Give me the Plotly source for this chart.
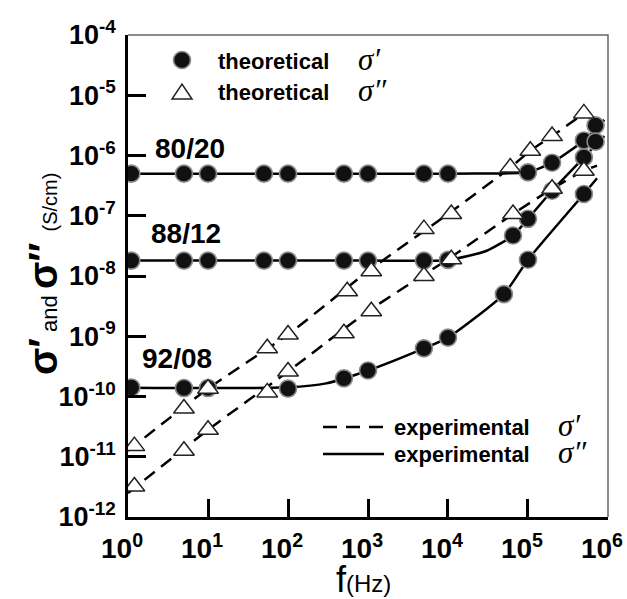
import plotly.graph_objects as go

# ---------------- data ----------------
# theoretical sigma' (circles)
f_circ_8020 = [1.1, 5, 10, 50, 100, 500, 1e3, 5e3, 1e4, 1e5, 2e5, 5e5, 7e5]
s_circ_8020 = [5.0e-7, 5.0e-7, 5.0e-7, 5.0e-7, 5.0e-7, 5.0e-7, 5.0e-7, 5.0e-7, 5.0e-7,
               5.25e-7, 7.6e-7, 1.78e-6, 3.16e-6]
f_circ_8812 = [1.1, 5, 10, 50, 100, 500, 1e3, 5e3, 1e4, 6.5e4, 1e5, 2e5, 5e5, 7e5]
s_circ_8812 = [1.8e-8, 1.8e-8, 1.8e-8, 1.8e-8, 1.8e-8, 1.8e-8, 1.8e-8, 1.8e-8, 1.85e-8,
               4.7e-8, 8.9e-8, 2.6e-7, 9.3e-7, 1.7e-6]
f_circ_9208 = [1.1, 5, 10, 100, 500, 1e3, 5e3, 1e4, 5e4, 1e5, 5e5]
s_circ_9208 = [1.41e-10, 1.38e-10, 1.38e-10, 1.35e-10, 2.0e-10, 2.7e-10, 6.3e-10,
               9.5e-10, 5.0e-9, 1.86e-8, 2.3e-7]

# theoretical sigma'' (triangles)
f_tri_a = [1.2, 5, 10, 55, 100, 550, 1.1e3, 5e3, 1.1e4, 6e4, 1.07e5, 2e5, 5e5]
s_tri_a = [1.5e-11, 6.3e-11, 1.35e-10, 6.3e-10, 1.07e-9, 5.6e-9, 1.2e-8, 6.0e-8,
           1.07e-7, 6.3e-7, 1.2e-6, 2.1e-6, 5.0e-6]
f_tri_b = [1.2, 5, 10, 55, 100, 500, 1.1e3, 5e3, 1.1e4, 6.5e4, 2e5, 5e5]
s_tri_b = [3.2e-12, 1.26e-11, 2.8e-11, 1.17e-10, 2.6e-10, 1.12e-9, 2.6e-9, 1.0e-8,
           1.9e-8, 1.07e-7, 2.8e-7, 5.6e-7]

# experimental curves
fe_8020 = [1, 1e3, 1e4, 5e4, 1e5, 2e5, 5e5, 9e5]
se_8020 = [5.0e-7, 5.0e-7, 5.0e-7, 5.05e-7, 5.25e-7, 7.6e-7, 1.78e-6, 3.9e-6]
fe_8812 = [1, 1e3, 1e4, 3e4, 6.5e4, 1e5, 2e5, 5e5, 9e5]
se_8812 = [1.8e-8, 1.8e-8, 1.85e-8, 2.6e-8, 4.7e-8, 8.9e-8, 2.6e-7, 9.3e-7, 2.1e-6]
fe_9208 = [1, 100, 300, 1e3, 5e3, 1e4, 5e4, 1e5, 5e5, 7.3e5]
se_9208 = [1.4e-10, 1.42e-10, 1.65e-10, 2.7e-10, 6.3e-10, 9.5e-10, 5.0e-9, 1.86e-8,
           2.3e-7, 4.2e-7]
fe_dash_a = [1, 10, 100, 1e3, 1e4, 6e4, 1.07e5, 2e5, 5e5]
se_dash_a = [1.26e-11, 1.35e-10, 1.07e-9, 1.2e-8, 1.07e-7, 6.3e-7, 1.2e-6, 2.1e-6, 5.0e-6]
fe_dash_b = [1, 10, 100, 1e3, 1e4, 6.5e4, 2e5, 5e5, 7.3e5]
se_dash_b = [2.5e-12, 2.8e-11, 2.6e-10, 2.6e-9, 1.9e-8, 1.07e-7, 2.8e-7, 5.6e-7, 6.8e-7]

x_tickvals = [1, 10, 100, 1e3, 1e4, 1e5, 1e6]
x_ticktext = ["<b>10<sup>%d</sup></b>" % i for i in range(0, 7)]
y_tickvals = [10.0 ** e for e in range(-12, -3)]
y_ticktext = ["<b>10<sup>%d</sup></b>" % e for e in range(-12, -3)]

comp_labels = ["80/20", "88/12", "92/08"]

# ---------------- figure ----------------
SANS = "Liberation Sans, Arial, sans-serif"
SERIF = "Liberation Serif, Times New Roman, serif"
W, H = 627, 599
L, R, T, B = 128, 19, 35, 82


def px(x):
    return (x - L) / (W - L - R)


def py(y):
    return (H - B - y) / (H - B - T)


fig = go.Figure()

line_style = dict(color="black", width=2.5, shape="spline", smoothing=0.6)
for fe, se in [(fe_8020, se_8020), (fe_8812, se_8812), (fe_9208, se_9208)]:
    fig.add_trace(go.Scatter(x=fe, y=se, mode="lines", line=line_style, hoverinfo="skip"))
for fe, se in [(fe_dash_a, se_dash_a), (fe_dash_b, se_dash_b)]:
    fig.add_trace(go.Scatter(x=fe, y=se, mode="lines",
                             line=dict(line_style, dash="13px,8px"), hoverinfo="skip"))

circ = dict(symbol="circle", size=17, color="#111111", line=dict(color="#8a8a8a", width=1.6))
for f, s in [(f_circ_8020, s_circ_8020), (f_circ_8812, s_circ_8812), (f_circ_9208, s_circ_9208)]:
    fig.add_trace(go.Scatter(x=f, y=s, mode="markers", marker=circ))

tri = dict(symbol="triangle-up", size=18, color="white", line=dict(color="#222222", width=1.5))
for f, s in [(f_tri_a, s_tri_a), (f_tri_b, s_tri_b)]:
    fig.add_trace(go.Scatter(x=f, y=s, mode="markers", marker=tri))

axis_common = dict(
    type="log", showgrid=False, zeroline=False, showline=True, linecolor="black",
    linewidth=2.5, ticks="inside", ticklen=18, tickwidth=2.5, tickcolor="black",
    automargin=False, ticklabeloverflow="allow",
)
fig.update_xaxes(axis_common, range=[-0.0005, 6.0005], tickvals=x_tickvals,
                 ticktext=x_ticktext, ticklabelstandoff=5, ticklabelshift=-6,
                 tickfont=dict(family=SANS, size=28, color="black"))
fig.update_yaxes(axis_common, range=[-12.0005, -3.9995], tickvals=y_tickvals,
                 ticktext=y_ticktext, ticklabelstandoff=4,
                 tickfont=dict(family=SANS, size=27, color="black"))

shapes = [
    # top / right frame
    dict(type="path", xref="paper", yref="paper", path="M0,1 L1,1 L1,0",
         line=dict(color="#666666", width=1.5), layer="below"),
    # legend keys
    dict(type="circle", xref="paper", yref="paper", x0=px(173.5), x1=px(190.5),
         y0=py(68.5), y1=py(51.5), fillcolor="#111111", line=dict(color="#8a8a8a", width=1.6)),
    dict(type="path", xref="paper", yref="paper",
         path="M%f,%f L%f,%f L%f,%f Z" % (px(172), py(99), px(192), py(99), px(182), py(84)),
         fillcolor="white", line=dict(color="#222222", width=1.5)),
    dict(type="line", xref="paper", yref="paper", x0=px(323), x1=px(384), y0=py(427), y1=py(427),
         line=dict(color="black", width=2.5, dash="14px,9px")),
    dict(type="line", xref="paper", yref="paper", x0=px(323), x1=px(384), y0=py(454), y1=py(454),
         line=dict(color="black", width=2.5)),
]


def note(text, x, y, size, family=SANS, xanchor="center", angle=0):
    return dict(text=text, x=px(x), y=py(y), xref="paper", yref="paper", showarrow=False,
                xanchor=xanchor, yanchor="middle", textangle=angle,
                font=dict(family=family, size=size, color="black"))


ann = []
# composition labels
for lab, (cx, cy) in zip(comp_labels, [(190, 148), (186, 233), (177, 358)]):
    ann.append(note("<b>%s</b>" % lab, cx, cy, 28))
# legend texts
for txt, sig, ly in [("theoretical", "σ′", 61), ("theoretical", "σ″", 92)]:
    ann.append(note("<b>%s</b>" % txt, 216, ly, 22, xanchor="left"))
    ann.append(note("<i>%s</i>" % sig, 356, ly - 2, 31, family=SERIF, xanchor="left"))
for txt, sig, ly in [("experimental", "σ′", 427), ("experimental", "σ″", 454)]:
    ann.append(note("<b>%s</b>" % txt, 392, ly, 22, xanchor="left"))
    ann.append(note("<i>%s</i>" % sig, 556, ly - 2, 31, family=SERIF, xanchor="left"))
# axis titles
ann.append(note("<b>σ′</b><span style='font-size:22px'> and </span><b>σ″</b>"
                "<span style='font-size:20px'>  (S/cm)</span>", 43, 274, 40, angle=-90))
ann.append(note("f<span style='font-size:24px'>(Hz)</span>", 363, 579, 36))

fig.update_layout(
    width=W, height=H, margin=dict(l=L, r=R, t=T, b=B), showlegend=False,
    paper_bgcolor="white", plot_bgcolor="white", shapes=shapes, annotations=ann,
)

fig.write_html("out.html", post_script="document.body.style.margin='0px';",
               config={"displayModeBar": False})
